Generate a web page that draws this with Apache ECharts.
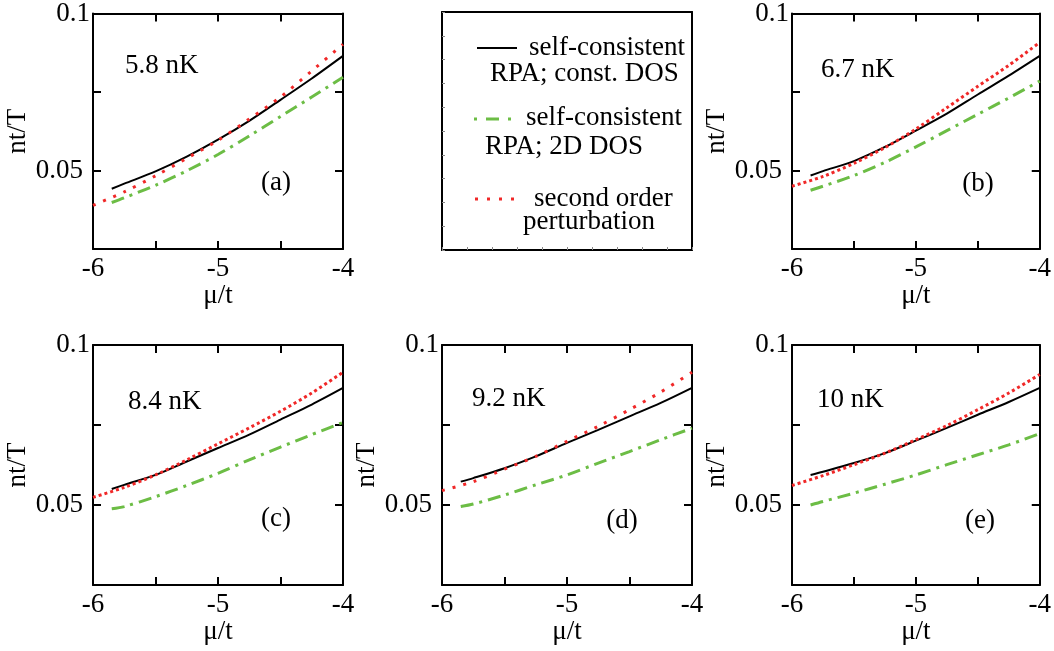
<!DOCTYPE html>
<html>
<head>
<meta charset="utf-8">
<script src="https://cdn.jsdelivr.net/npm/echarts@6/dist/echarts.min.js"></script>
<style>
  html, body { margin: 0; padding: 0; background: #fff; }
  #chart { width: 1054px; height: 651px; }
</style>
</head>
<body>
<div id="chart"></div>
<script>
// Chemical potential grids (mu/t) for the two kinds of curves
const muSelf = [-5.85, -5.75, -5.5, -5.25, -5.0, -4.75, -4.5, -4.25, -4.0];
const muPert = [-6.0, -5.75, -5.5, -5.25, -5.0, -4.75, -4.5, -4.25, -4.0];

// Panel labels
const temps = ['5.8 nK', '6.7 nK', '8.4 nK', '9.2 nK', '10 nK'];
const tags = ['(a)', '(b)', '(c)', '(d)', '(e)'];

// nt/T : self-consistent RPA with constant density of states
const constDOS_a = [0.0442, 0.0458, 0.0497, 0.0544, 0.0598, 0.0658, 0.0725, 0.0793, 0.0865];
const constDOS_b = [0.0484, 0.0498, 0.0530, 0.0575, 0.0627, 0.0681, 0.0742, 0.0802, 0.0865];
const constDOS_c = [0.0550, 0.0563, 0.0594, 0.0636, 0.0678, 0.0720, 0.0767, 0.0814, 0.0866];
const constDOS_d = [0.0573, 0.0584, 0.0615, 0.0652, 0.0694, 0.0735, 0.0777, 0.0819, 0.0866];
const constDOS_e = [0.0594, 0.0604, 0.0631, 0.0662, 0.0701, 0.0741, 0.0782, 0.0822, 0.0866];

// nt/T : self-consistent RPA with 2D density of states
const dos2D_a = [0.0398, 0.0413, 0.0453, 0.0499, 0.0551, 0.0610, 0.0672, 0.0734, 0.0797];
const dos2D_b = [0.0437, 0.0450, 0.0484, 0.0526, 0.0575, 0.0627, 0.0679, 0.0731, 0.0785];
const dos2D_c = [0.0488, 0.0495, 0.0526, 0.0561, 0.0599, 0.0641, 0.0681, 0.0720, 0.0758];
const dos2D_d = [0.0495, 0.0503, 0.0531, 0.0563, 0.0594, 0.0631, 0.0667, 0.0704, 0.0740];
const dos2D_e = [0.0500, 0.0511, 0.0537, 0.0565, 0.0594, 0.0626, 0.0657, 0.0688, 0.0723];

// nt/T : second order perturbation
const pert_a = [0.0389, 0.0432, 0.0483, 0.0539, 0.0596, 0.0664, 0.0734, 0.0817, 0.0902];
const pert_b = [0.0450, 0.0481, 0.0523, 0.0573, 0.0632, 0.0700, 0.0768, 0.0835, 0.0908];
const pert_c = [0.0524, 0.0555, 0.0594, 0.0641, 0.0691, 0.0741, 0.0793, 0.0850, 0.0915];
const pert_d = [0.0545, 0.0573, 0.0612, 0.0652, 0.0699, 0.0746, 0.0798, 0.0853, 0.0915];
const pert_e = [0.0561, 0.0592, 0.0626, 0.0662, 0.0704, 0.0748, 0.0798, 0.0850, 0.0908];

const constDOS = [constDOS_a, constDOS_b, constDOS_c, constDOS_d, constDOS_e];
const dos2D = [dos2D_a, dos2D_b, dos2D_c, dos2D_d, dos2D_e];
const pert = [pert_a, pert_b, pert_c, pert_d, pert_e];

const seriesNames = ['self-consistent RPA; const. DOS', 'self-consistent RPA; 2D DOS', 'second order perturbation'];

// Layout of the five plot frames plus the legend frame
const layout = [
  { left: 93,  top: 12,  width: 250, height: 237, tempAt: [125, 66],  tagAt: [276, 183], dots: [3, 8] },
  { left: 792, top: 12,  width: 249, height: 237, tempAt: [821, 70],  tagAt: [978, 184], dots: [3, 3] },
  { left: 93,  top: 345, width: 250, height: 240, tempAt: [128, 402], tagAt: [276, 519], dots: [3, 3] },
  { left: 442, top: 345, width: 250, height: 240, tempAt: [472, 399], tagAt: [622, 521], dots: [3, 8] },
  { left: 792, top: 345, width: 249, height: 240, tempAt: [817, 400], tagAt: [980, 521], dots: [3, 3] }
];
const legendFrame = { left: 442, top: 12, width: 250, height: 238 };

const FONT = '"Liberation Serif", "Times New Roman", serif';
const FS = 27;
const BLACK = '#000';
const GREEN = '#6cbd45';
const RED = '#f02828';

const pairs = (xs, ys) => xs.map((x, i) => [x, ys[i]]);
const near = (a, b) => Math.abs(a - b) < 1e-9;

const grids = [];
const xAxes = [];
const yAxes = [];
const series = [];
const graphics = [];

layout.forEach((g, i) => {
  grids.push({ left: g.left, top: g.top, width: g.width, height: g.height, containLabel: false });
  const frameLine = { show: true, onZero: false, lineStyle: { color: BLACK, width: 2 } };
  const tick = { show: true, inside: true, length: 8, lineStyle: { color: BLACK, width: 2 } };
  xAxes.push({
    gridIndex: i, type: 'value', position: 'bottom', min: -6, max: -4, interval: 0.5,
    axisLine: frameLine, axisTick: tick, splitLine: { show: false },
    axisLabel: {
      margin: 6, color: BLACK, fontFamily: FONT, fontSize: FS,
      showMinLabel: true, showMaxLabel: true, hideOverlap: false,
      formatter: v => (near(v, Math.round(v)) ? String(Math.round(v)) : '')
    },
    name: 'μ/t', nameLocation: 'middle', nameGap: 30,
    nameTextStyle: { color: BLACK, fontFamily: FONT, fontSize: FS }
  });
  xAxes.push({
    gridIndex: i, type: 'value', position: 'top', min: -6, max: -4, interval: 0.5,
    axisLine: frameLine, axisTick: tick, axisLabel: { show: false }, splitLine: { show: false }
  });
  yAxes.push({
    gridIndex: i, type: 'value', position: 'left', min: 0.025, max: 0.1, interval: 0.025,
    axisLine: frameLine, axisTick: tick, splitLine: { show: false },
    axisLabel: {
      margin: 3, color: BLACK, fontFamily: FONT, fontSize: FS,
      showMinLabel: true, showMaxLabel: true, hideOverlap: false,
      formatter: v => (near(v, 0.1) ? '{a|0.1}' : near(v, 0.05) ? '{b|0.05}' : ''),
      rich: {
        a: { fontFamily: FONT, fontSize: FS, color: BLACK },
        b: { fontFamily: FONT, fontSize: FS, color: BLACK, padding: [0, 7, 0, 0] }
      }
    },
    name: 'nt/T', nameLocation: 'middle', nameGap: 62,
    nameTextStyle: { color: BLACK, fontFamily: FONT, fontSize: FS }
  });
  yAxes.push({
    gridIndex: i, type: 'value', position: 'right', min: 0.025, max: 0.1, interval: 0.025,
    axisLine: frameLine, axisTick: tick, axisLabel: { show: false }, splitLine: { show: false }
  });

  const common = { xAxisIndex: 2 * i, yAxisIndex: 2 * i, showSymbol: false, symbol: 'none',
                   smooth: 0.3, animation: false, silent: true };
  series.push(Object.assign({}, common, {
    type: 'line', name: seriesNames[0], data: pairs(muSelf, constDOS[i]),
    lineStyle: { color: BLACK, width: 2 }, z: 3
  }));
  series.push(Object.assign({}, common, {
    type: 'line', name: seriesNames[1], data: pairs(muSelf, dos2D[i]),
    lineStyle: { color: GREEN, width: 3, type: [13, 6, 3, 6], cap: 'butt' }, z: 2
  }));
  series.push(Object.assign({}, common, {
    type: 'line', name: seriesNames[2], data: pairs(muPert, pert[i]),
    lineStyle: { color: RED, width: 3, type: g.dots, cap: 'butt' }, z: 4
  }));

  graphics.push({
    type: 'text', x: g.tempAt[0], y: g.tempAt[1],
    style: { text: temps[i], font: FS + 'px ' + FONT, fill: BLACK, align: 'left', verticalAlign: 'middle',
             textAlign: 'left', textVerticalAlign: 'middle' }
  });
  graphics.push({
    type: 'text', x: g.tagAt[0], y: g.tagAt[1],
    style: { text: tags[i], font: FS + 'px ' + FONT, fill: BLACK, align: 'center', verticalAlign: 'middle',
             textAlign: 'center', textVerticalAlign: 'middle' }
  });
});

// Legend frame: an empty box with fine ticks along its left and bottom edges
const li = layout.length;
grids.push(Object.assign({ containLabel: false }, legendFrame));
const fineTick = { show: true, inside: true, length: 3, lineStyle: { color: '#888', width: 1 } };
const boxLine = { show: true, onZero: false, lineStyle: { color: BLACK, width: 2 } };
xAxes.push({ gridIndex: li, type: 'value', position: 'bottom', min: 0, max: 10, interval: 1,
  axisLine: boxLine, axisTick: fineTick, axisLabel: { show: false }, splitLine: { show: false } });
xAxes.push({ gridIndex: li, type: 'value', position: 'top', min: 0, max: 10, interval: 1,
  axisLine: boxLine, axisTick: { show: false }, axisLabel: { show: false }, splitLine: { show: false } });
yAxes.push({ gridIndex: li, type: 'value', position: 'left', min: 0, max: 10, interval: 1,
  axisLine: boxLine, axisTick: fineTick, axisLabel: { show: false }, splitLine: { show: false } });
yAxes.push({ gridIndex: li, type: 'value', position: 'right', min: 0, max: 10, interval: 1,
  axisLine: boxLine, axisTick: { show: false }, axisLabel: { show: false }, splitLine: { show: false } });

// Legend entries: sample line plus two lines of text each
const legendItems = [
  { y: 48,  stroke: BLACK, width: 2, dash: null,          x1: 477, x2: 517,
    lines: [{ t: 'self-consistent', x: 529, y: 48 }, { t: 'RPA; const. DOS', x: 490, y: 74 }] },
  { y: 119, stroke: GREEN, width: 3, dash: [3, 9, 13, 9], x1: 474, x2: 515,
    lines: [{ t: 'self-consistent', x: 526, y: 118 }, { t: 'RPA; 2D DOS', x: 485, y: 147 }] },
  { y: 199, stroke: RED,   width: 3, dash: [3, 9],        x1: 475, x2: 515,
    lines: [{ t: 'second order', x: 534, y: 199 }, { t: 'perturbation', x: 523, y: 222 }] }
];
legendItems.forEach(it => {
  graphics.push({
    type: 'line', shape: { x1: it.x1, y1: it.y, x2: it.x2, y2: it.y },
    style: { stroke: it.stroke, lineWidth: it.width, lineDash: it.dash, lineCap: 'butt' }
  });
  it.lines.forEach(l => {
    graphics.push({
      type: 'text', x: l.x, y: l.y,
      style: { text: l.t, font: FS + 'px ' + FONT, fill: BLACK, align: 'left', verticalAlign: 'middle',
               textAlign: 'left', textVerticalAlign: 'middle' }
    });
  });
});

const chart = echarts.init(document.getElementById('chart'), null, { renderer: 'canvas' });
chart.setOption({
  backgroundColor: '#fff',
  animation: false,
  grid: grids,
  xAxis: xAxes,
  yAxis: yAxes,
  series: series,
  graphic: graphics
});
</script>
</body>
</html>
